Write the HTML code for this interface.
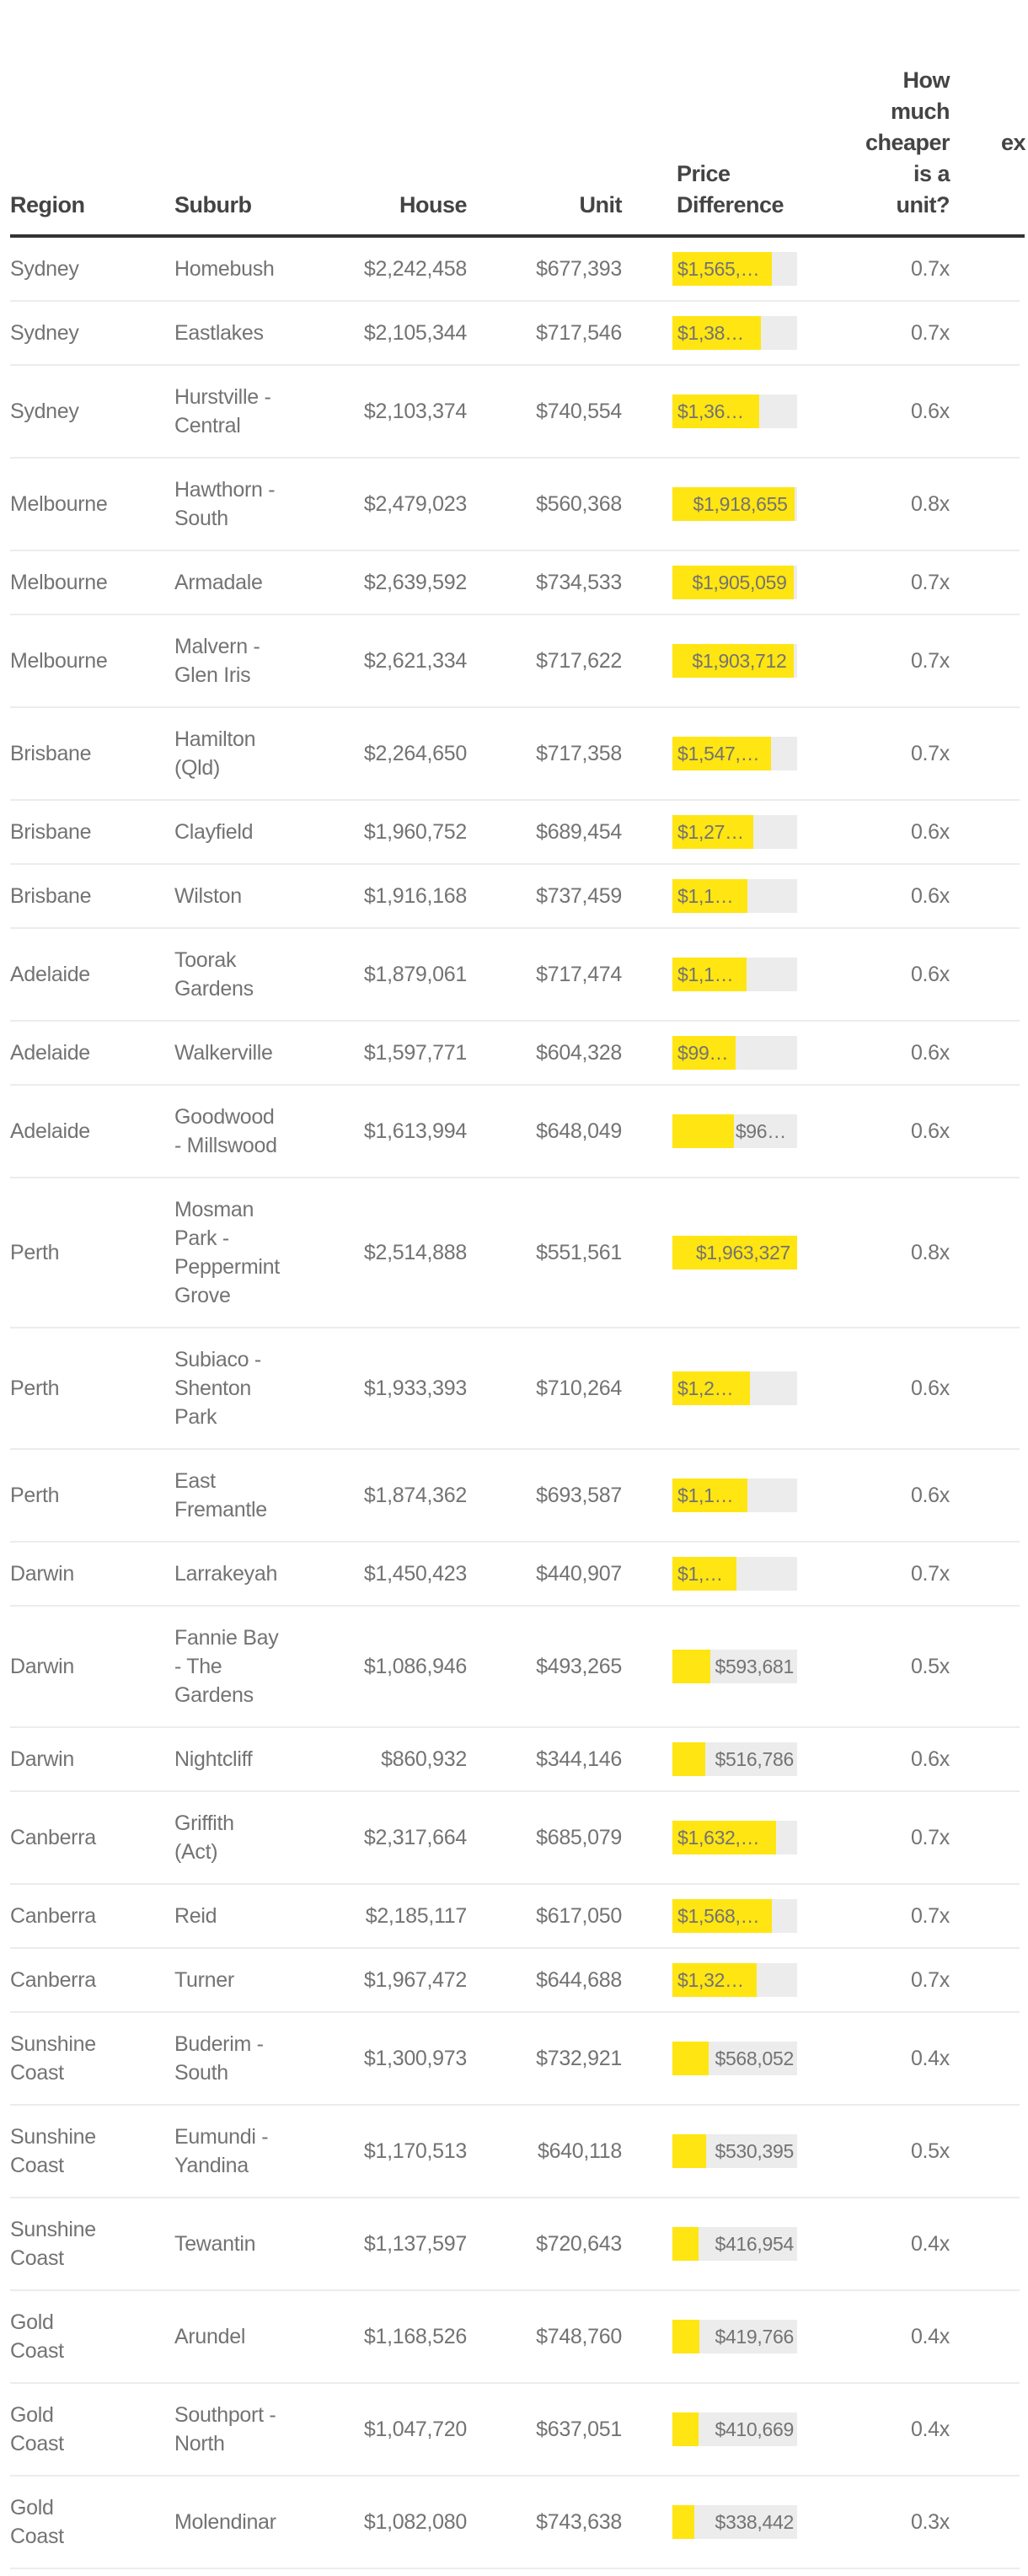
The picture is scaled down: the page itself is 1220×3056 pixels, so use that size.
<!DOCTYPE html>
<html><head><meta charset="utf-8">
<style>
html,body{margin:0;padding:0;background:#fff;}
body{width:1220px;height:3056px;position:relative;overflow:hidden;font-family:"Liberation Sans",sans-serif;}
.h{position:absolute;font-weight:bold;font-size:27px;line-height:37px;color:#444;letter-spacing:-0.5px;}
.row{position:absolute;left:12px;width:1198px;border-bottom:2px solid #ececec;box-sizing:border-box;}
.c{position:absolute;font-size:25px;line-height:34px;color:#737373;white-space:pre-line;letter-spacing:-0.3px;}
.bar{position:absolute;left:786px;width:148px;height:40px;background:#ececec;}
.fill{position:absolute;left:0;top:0;height:40px;background:#ffe512;}
.lbl{position:absolute;top:0;height:40px;line-height:40px;font-size:23px;color:#737373;white-space:nowrap;overflow:hidden;text-overflow:ellipsis;text-align:right;box-sizing:border-box;padding:0 8px 0 6px;letter-spacing:-0.3px;}
</style></head>
<body>
<div>
<div class="h" style="left:12px;top:225px;">Region</div>
<div class="h" style="left:207px;top:225px;">Suburb</div>
<div class="h" style="left:420px;width:134px;text-align:right;top:225px;">House</div>
<div class="h" style="left:600px;width:138px;text-align:right;top:225px;">Unit</div>
<div class="h" style="left:803px;top:188px;">Price<br>Difference</div>
<div class="h" style="left:990px;width:137px;text-align:right;top:77px;">How<br>much<br>cheaper<br>is a<br>unit?</div>
<div class="h" style="left:1188px;top:151px;">ex</div>
<div style="position:absolute;left:12px;top:278px;width:1204px;height:4px;background:#333;"></div>
<div id="rows"></div>
</div>
<script>
const regions=["Sydney","Sydney","Sydney","Melbourne","Melbourne","Melbourne","Brisbane","Brisbane","Brisbane","Adelaide","Adelaide","Adelaide","Perth","Perth","Perth","Darwin","Darwin","Darwin","Canberra","Canberra","Canberra","Sunshine\nCoast","Sunshine\nCoast","Sunshine\nCoast","Gold\nCoast","Gold\nCoast","Gold\nCoast"];
const suburbs=["Homebush","Eastlakes","Hurstville -\nCentral","Hawthorn -\nSouth","Armadale","Malvern -\nGlen Iris","Hamilton\n(Qld)","Clayfield","Wilston","Toorak\nGardens","Walkerville","Goodwood\n- Millswood","Mosman\nPark -\nPeppermint\nGrove","Subiaco -\nShenton\nPark","East\nFremantle","Larrakeyah","Fannie Bay\n- The\nGardens","Nightcliff","Griffith\n(Act)","Reid","Turner","Buderim -\nSouth","Eumundi -\nYandina","Tewantin","Arundel","Southport -\nNorth","Molendinar"];
const houses=[2242458,2105344,2103374,2479023,2639592,2621334,2264650,1960752,1916168,1879061,1597771,1613994,2514888,1933393,1874362,1450423,1086946,860932,2317664,2185117,1967472,1300973,1170513,1137597,1168526,1047720,1082080];
const units=[677393,717546,740554,560368,734533,717622,717358,689454,737459,717474,604328,648049,551561,710264,693587,440907,493265,344146,685079,617050,644688,732921,640118,720643,748760,637051,743638];
const ratios=["0.7x","0.7x","0.6x","0.8x","0.7x","0.7x","0.7x","0.6x","0.6x","0.6x","0.6x","0.6x","0.8x","0.6x","0.6x","0.7x","0.5x","0.6x","0.7x","0.7x","0.7x","0.4x","0.5x","0.4x","0.4x","0.4x","0.3x"];

const BAR_W=148;
const diffs=houses.map((h,i)=>h-units[i]);
const maxDiff=Math.max(...diffs);
function xScale(v){return v/maxDiff*BAR_W;}
function fmt(n){return "$"+n.toLocaleString("en-US");}

const body=document.getElementById("rows");
let y=282;
for(let i=0;i<regions.length;i++){
  const lines=Math.max(regions[i].split("\n").length,suburbs[i].split("\n").length);
  const h=42+lines*34;
  const row=document.createElement("div");
  
  
  row.className="row";
  row.style.top=y+"px";row.style.height=h+"px";
  const mid=h/2-1;
  function cell(txt,left,width,align,name){
    const d=document.createElement("div");
    
    
    d.className="c";
    d.textContent=txt;
    const n=txt.split("\n").length;
    d.style.left=left+"px";
    if(width){d.style.width=width+"px";d.style.textAlign=align;}
    d.style.top=(mid-n*17)+"px";
    row.appendChild(d);
  }
  cell(regions[i],0,null,null,'region-cell');
  cell(suburbs[i],195,null,null,'suburb-cell');
  cell(fmt(houses[i]),400,142,"right",'house-price-cell');
  cell(fmt(units[i]),580,146,"right",'unit-price-cell');
  cell(ratios[i],1000,115,"right",'ratio-cell');
  const bar=document.createElement("div");
  
  
  bar.className="bar";
  bar.style.top=(mid-20)+"px";
  const w=xScale(diffs[i]);
  const fill=document.createElement("div");
  
  
  fill.className="fill";
  fill.style.width=w+"px";
  bar.appendChild(fill);
  const lbl=document.createElement("div");
  
  
  lbl.className="lbl";
  lbl.textContent=fmt(diffs[i]);
  if(w>=74){lbl.style.left="0px";lbl.style.width=w+"px";}
  else{lbl.style.left=w+"px";lbl.style.width=(BAR_W-w)+"px";lbl.style.paddingLeft="2px";lbl.style.paddingRight="4px";}
  bar.appendChild(lbl);
  row.appendChild(bar);
  body.appendChild(row);
  y+=h;
}
</script>
</body></html>
